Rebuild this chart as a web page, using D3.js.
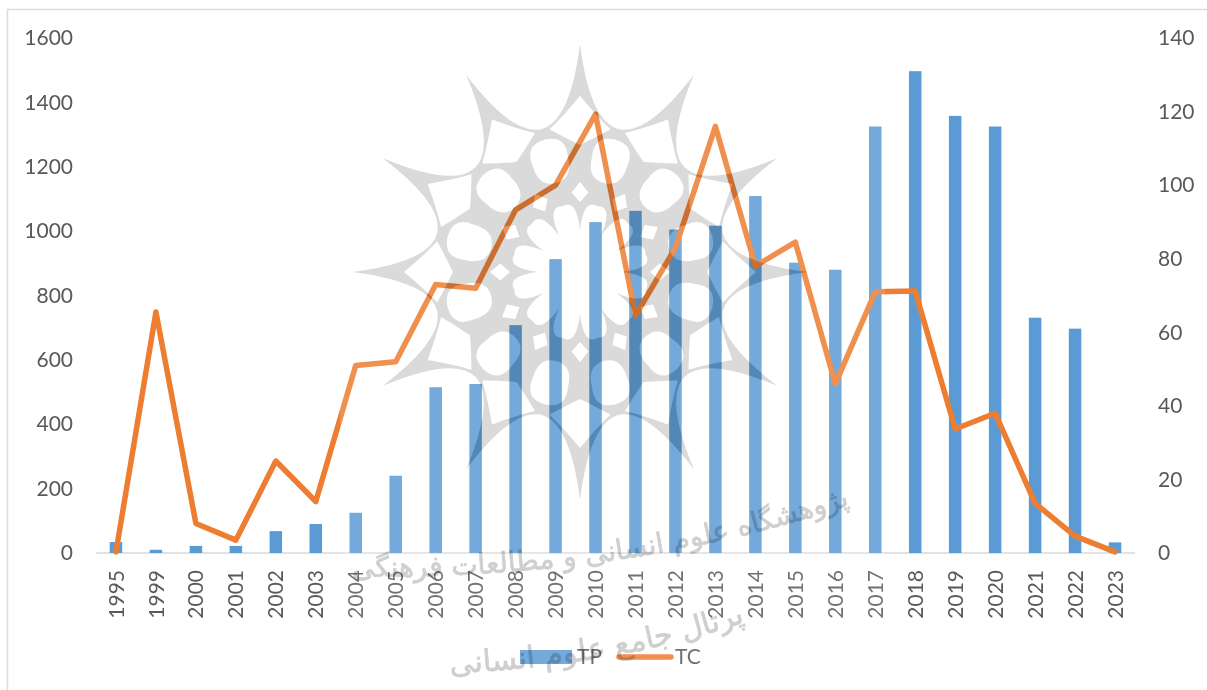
<!DOCTYPE html>
<html>
<head>
<meta charset="utf-8">
<script src="https://cdn.jsdelivr.net/npm/d3@7"></script>
<style>
  html, body { margin: 0; background: #fff; }
  svg { display: block; }
  text { font-family: Lato, "Open Sans", sans-serif; }
</style>
</head>
<body>
<svg width="1207" height="690"></svg>
<script>
var years = ["1995","1999","2000","2001","2002","2003","2004","2005","2006","2007","2008","2009","2010","2011","2012","2013","2014","2015","2016","2017","2018","2019","2020","2021","2022","2023"];
var tp = [34,10,22,22,68,90,125,240,515,525,708,913,1028,1063,1005,1017,1109,902,880,1325,1497,1358,1325,731,697,33];
var tc = [0.3,65.5,8,3.5,25,14,51,52,73,72,93.3,100,119.3,64.5,83,116,78,84.5,46,71,71.2,33.7,38,13.5,4.6,0.3];
var leftTicks = [0,200,400,600,800,1000,1200,1400,1600];
var rightTicks = [0,20,40,60,80,100,120,140];
var seriesNames = ["TP","TC"];
var watermarkLines = ["پژوهشگاه علوم انسانی و مطالعات فرهنگی","پرتال جامع علوم انسانی"];

var svg = d3.select("svg");
var blue = "#5b9bd5", orange = "#ed7d31", textColor = "#595959", lineColor = "#d9d9d9";

var plotLeft = 96, plotRight = 1135, plotTop = 38, plotBottom = 553;

svg.append("rect").attr("width", 1207).attr("height", 690).attr("fill", "#fff");

// frame, only top and left show in the picture
svg.append("path")
  .attr("d", "M7.5,690V9.5H1207")
  .attr("fill", "none").attr("stroke", "#dcdcdc").attr("stroke-width", 1.5);

var x = d3.scaleBand().domain(years).range([plotLeft, plotRight]).paddingInner(0.687).paddingOuter(0.3435);
var yLeft = d3.scaleLinear().domain([0, 1600]).range([plotBottom, plotTop]);
var yRight = d3.scaleLinear().domain([0, 140]).range([plotBottom, plotTop]);

function styleAxis(g) {
  g.select(".domain").remove();
  g.selectAll("text").attr("fill", textColor).style("font-size", "21px");
}

svg.append("g").attr("transform", "translate(" + (plotLeft - 15) + ",0)")
  .call(d3.axisLeft(yLeft).tickValues(leftTicks).tickFormat(d3.format("d")).tickSize(0).tickPadding(8))
  .call(styleAxis);

svg.append("g").attr("transform", "translate(" + (plotRight + 15) + ",0)")
  .call(d3.axisRight(yRight).tickValues(rightTicks).tickFormat(d3.format("d")).tickSize(0).tickPadding(8))
  .call(styleAxis)
  .selectAll("text").attr("text-anchor", "start");

var xAxis = svg.append("g").attr("transform", "translate(0," + plotBottom + ")")
  .call(d3.axisBottom(x).tickSize(0))
  .call(styleAxis);
xAxis.selectAll("text")
  .attr("text-anchor", "end")
  .attr("dy", "0.36em")
  .attr("transform", "translate(0,17) rotate(-90)")
  .attr("y", 0).attr("x", 0);

svg.append("line")
  .attr("x1", plotLeft).attr("x2", plotRight)
  .attr("y1", plotBottom).attr("y2", plotBottom)
  .attr("stroke", lineColor).attr("stroke-width", 1.5);

svg.append("g").selectAll("rect").data(years).enter().append("rect")
  .attr("x", d => x(d))
  .attr("y", (d, i) => yLeft(tp[i]))
  .attr("width", x.bandwidth())
  .attr("height", (d, i) => plotBottom - yLeft(tp[i]))
  .attr("fill", blue);

var line = d3.line()
  .x((d, i) => x(years[i]) + x.bandwidth() / 2)
  .y(d => yRight(d));

svg.append("path").datum(tc)
  .attr("d", line)
  .attr("fill", "none")
  .attr("stroke", orange)
  .attr("stroke-width", 5.5)
  .attr("stroke-linejoin", "round")
  .attr("stroke-linecap", "round");

// legend
var legend = svg.append("g");
legend.append("rect").attr("x", 520).attr("y", 650).attr("width", 52).attr("height", 14).attr("fill", blue);
legend.append("text").attr("x", 577).attr("y", 664).text(seriesNames[0]);
legend.append("line").attr("x1", 619).attr("x2", 671).attr("y1", 657).attr("y2", 657)
  .attr("stroke", orange).attr("stroke-width", 5.5).attr("stroke-linecap", "round");
legend.append("text").attr("x", 675).attr("y", 664).text(seriesNames[1]);
legend.selectAll("text").attr("fill", textColor).style("font-size", "21px");

// watermark picture sitting on top of the chart
var defs = svg.append("defs");
defs.append("filter").attr("id", "soft").append("feGaussianBlur").attr("stdDeviation", 0.7);
defs.append("path").attr("id", "arcUp").attr("d", "M300,575 Q600,588 850,505");
defs.append("path").attr("id", "arcDown").attr("d", "M400,675 Q600,672 745,622");

svg.append("rect")
  .attr("x", 340).attr("y", 40).attr("width", 545).attr("height", 650)
  .attr("fill", "#fff").attr("opacity", 0.15);

function polar(r, deg) {
  var a = (deg - 90) * Math.PI / 180;
  return (r * Math.cos(a)).toFixed(1) + "," + (r * Math.sin(a)).toFixed(1);
}

function rosettePath() {
  var d = "", k, n;
  // outer star with concave sides
  d += "M" + polar(228, 0);
  for (k = 0; k < 12; k++) {
    d += "Q" + polar(76, 30 * k + 15) + " " + polar(228, 30 * k + 30);
  }
  d += "Z";
  for (k = 0; k < 12; k++) {
    var a = 30 * k;
    // kite cells under the arcs
    d += "M" + polar(176, a) +
      "Q" + polar(157, a + 6) + " " + polar(146, a + 12) +
      "Q" + polar(136, a + 7) + " " + polar(127, a) +
      "Q" + polar(136, a - 7) + " " + polar(146, a - 12) +
      "Q" + polar(157, a - 6) + " " + polar(176, a) + "Z";
    // ring of rounded cells
    var b = a + 15;
    d += "M" + polar(137, b) +
      "Q" + polar(138, b + 9) + " " + polar(116, b + 9) +
      "Q" + polar(94, b + 11) + " " + polar(92, b) +
      "Q" + polar(94, b - 11) + " " + polar(116, b - 9) +
      "Q" + polar(138, b - 9) + " " + polar(137, b) + "Z";
    // small diamonds
    d += "M" + polar(90, a) + "L" + polar(80, a + 6) + "L" + polar(70, a) + "L" + polar(80, a - 6) + "Z";
  }
  // white flower in the middle
  for (k = 0; k < 12; k++) {
    n = 30 * k;
    d += (k === 0 ? "M" : "L") + polar(42, n);
    d += "Q" + polar(74, n + 3) + " " + polar(68, n + 15) + "Q" + polar(74, n + 27) + " " + polar(42, n + 30);
  }
  d += "Z";
  return d;
}

var rosette = rosettePath();

// multiply for the white paper, color-burn deepens what lies under it
[["#dedede", "multiply"], ["#e6e6e6", "color-burn"]].forEach(function(s) {
  svg.append("path")
    .style("mix-blend-mode", s[1])
    .attr("filter", "url(#soft)")
    .attr("transform", "translate(580,272)")
    .attr("d", rosette)
    .attr("fill", s[0])
    .attr("fill-rule", "evenodd");
});

var wmText = svg.append("g").style("mix-blend-mode", "multiply").attr("filter", "url(#soft)");
[["#arcUp", 28], ["#arcDown", 30]].forEach(function(t, i) {
  wmText.append("text")
    .attr("direction", "rtl")
    .style("font-family", "'DejaVu Sans', sans-serif")
    .style("font-size", t[1] + "px")
    .attr("fill", "#cfcfcf")
    .attr("stroke", "#cfcfcf")
    .attr("stroke-width", 0.7)
    .append("textPath")
    .attr("href", t[0])
    .attr("startOffset", "100%")
    .attr("text-anchor", "start")
    .text(watermarkLines[i]);
});
</script>
</body>
</html>
